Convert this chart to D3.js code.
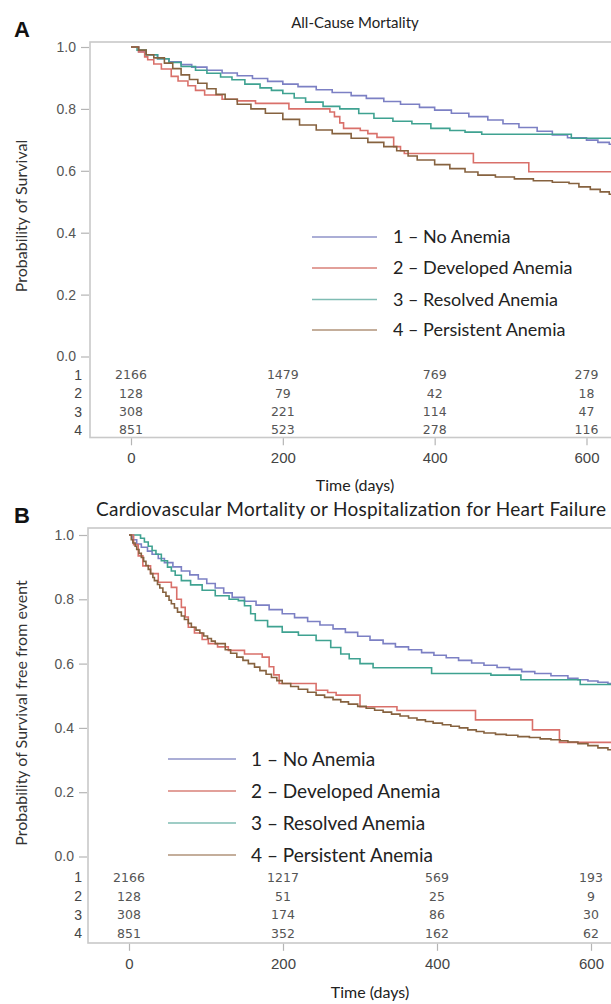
<!DOCTYPE html>
<html>
<head>
<meta charset="utf-8">
<script src="https://cdn.jsdelivr.net/npm/d3@7"></script>
<style>
  html, body { margin: 0; padding: 0; background: #fff; }
  svg { display: block; }
</style>
</head>
<body>
<script>
// ---------------- DATA ----------------
const groupLabels = ["1 \u2013 No Anemia", "2 \u2013 Developed Anemia", "3 \u2013 Resolved Anemia", "4 \u2013 Persistent Anemia"];
const riskRowLabels = ["1", "2", "3", "4"];
const xTickValues = [0, 200, 400, 600];
const yTickValues = [0, 0.2, 0.4, 0.6, 0.8, 1.0];
const panelTitles = ["All-Cause Mortality", "Cardiovascular Mortality or Hospitalization for Heart Failure"];
const panelLetters = ["A", "B"];
const yAxisTitles = ["Probability of Survival", "Probability of Survival free from event"];
const xAxisTitle = "Time (days)";

// Panel A: all-cause mortality, [day, survival]
const allCauseNoAnemia = [[0,1.000],[10,0.985],[20,0.975],[35,0.962],[50,0.952],[66,0.943],[80,0.935],[100,0.925],[120,0.916],[140,0.907],[160,0.898],[180,0.889],[200,0.880],[220,0.872],[244,0.862],[265,0.853],[290,0.843],[310,0.834],[333,0.824],[355,0.815],[380,0.805],[400,0.796],[422,0.786],[445,0.775],[470,0.764],[490,0.752],[511,0.740],[535,0.728],[555,0.716],[575,0.707],[600,0.699],[615,0.692],[630,0.686],[680,0.680]];
const allCauseDeveloped = [[0,1.000],[10,0.984],[18,0.968],[22,0.959],[30,0.945],[40,0.929],[53,0.905],[62,0.890],[75,0.875],[85,0.860],[97,0.845],[120,0.831],[140,0.826],[164,0.818],[208,0.800],[262,0.790],[268,0.775],[275,0.755],[280,0.737],[302,0.730],[312,0.720],[324,0.708],[346,0.678],[355,0.665],[360,0.656],[451,0.626],[524,0.597],[680,0.597]];
const allCauseResolved = [[0,1.000],[8,0.990],[20,0.975],[35,0.962],[50,0.950],[66,0.937],[85,0.925],[100,0.915],[118,0.903],[133,0.894],[150,0.880],[170,0.868],[185,0.860],[200,0.850],[215,0.835],[230,0.822],[253,0.808],[275,0.800],[300,0.785],[320,0.770],[345,0.760],[370,0.752],[395,0.737],[420,0.730],[440,0.725],[462,0.718],[580,0.705],[680,0.700]];
const allCausePersistent = [[0,1.000],[10,0.990],[20,0.975],[30,0.965],[44,0.948],[55,0.930],[66,0.910],[77,0.895],[88,0.883],[100,0.865],[112,0.847],[124,0.831],[140,0.815],[158,0.800],[177,0.786],[200,0.766],[222,0.748],[244,0.732],[265,0.720],[290,0.705],[312,0.692],[333,0.678],[350,0.665],[365,0.648],[377,0.635],[400,0.620],[420,0.607],[440,0.596],[457,0.586],[480,0.580],[505,0.574],[530,0.568],[555,0.563],[577,0.559],[590,0.548],[605,0.540],[618,0.532],[630,0.524],[660,0.510]];

// Panel B: CV mortality or HF hospitalization, [day, event-free survival]
const cvNoAnemia = [[0,1.000],[5,0.985],[10,0.972],[16,0.962],[24,0.950],[30,0.940],[38,0.927],[46,0.914],[57,0.901],[68,0.888],[79,0.876],[90,0.863],[101,0.849],[112,0.835],[123,0.820],[134,0.806],[150,0.794],[165,0.782],[182,0.768],[199,0.755],[215,0.743],[232,0.731],[248,0.720],[265,0.708],[281,0.697],[297,0.685],[313,0.673],[330,0.662],[346,0.652],[363,0.643],[380,0.634],[396,0.626],[412,0.618],[428,0.610],[445,0.602],[461,0.595],[478,0.588],[494,0.582],[510,0.575],[527,0.569],[548,0.562],[570,0.554],[583,0.550],[596,0.546],[609,0.542],[622,0.538],[640,0.535],[680,0.530]];
const cvDeveloped = [[0,1.000],[6,0.970],[12,0.935],[18,0.904],[28,0.880],[38,0.853],[55,0.837],[62,0.800],[68,0.775],[73,0.745],[77,0.713],[85,0.695],[95,0.675],[103,0.662],[115,0.652],[129,0.641],[150,0.630],[173,0.620],[182,0.590],[188,0.565],[195,0.538],[243,0.517],[258,0.510],[269,0.502],[300,0.466],[348,0.454],[450,0.425],[524,0.394],[559,0.355],[680,0.355]];
const cvResolved = [[0,1.000],[15,0.990],[20,0.978],[25,0.965],[30,0.952],[35,0.940],[42,0.920],[50,0.900],[55,0.888],[60,0.875],[68,0.858],[80,0.845],[95,0.828],[112,0.811],[130,0.800],[142,0.796],[150,0.780],[158,0.755],[164,0.734],[180,0.715],[199,0.698],[220,0.688],[243,0.672],[262,0.650],[275,0.630],[286,0.615],[300,0.600],[317,0.587],[393,0.569],[470,0.564],[509,0.550],[586,0.535],[680,0.535]];
const cvPersistent = [[0,1.000],[3,0.985],[5,0.975],[8,0.965],[10,0.955],[13,0.943],[16,0.930],[19,0.918],[22,0.905],[25,0.893],[28,0.880],[31,0.868],[33,0.858],[37,0.846],[40,0.835],[44,0.822],[48,0.810],[52,0.797],[55,0.786],[59,0.773],[63,0.760],[68,0.748],[72,0.737],[77,0.725],[81,0.713],[87,0.704],[92,0.695],[97,0.686],[102,0.678],[107,0.670],[112,0.662],[125,0.643],[132,0.632],[140,0.620],[148,0.610],[155,0.600],[163,0.589],[170,0.578],[178,0.567],[185,0.557],[192,0.547],[199,0.538],[210,0.529],[220,0.520],[232,0.511],[243,0.502],[254,0.495],[265,0.488],[275,0.481],[285,0.474],[297,0.467],[308,0.461],[319,0.455],[330,0.449],[341,0.443],[352,0.437],[363,0.431],[374,0.425],[385,0.420],[395,0.415],[407,0.410],[418,0.405],[429,0.400],[440,0.394],[451,0.389],[461,0.384],[476,0.380],[490,0.377],[505,0.373],[520,0.370],[534,0.366],[548,0.363],[560,0.360],[570,0.356],[583,0.351],[596,0.345],[609,0.338],[622,0.332],[680,0.320]];

// Numbers at risk (rows = groups, columns = xTickValues)
const atRiskAllCause = [[2166,1479,769,279],[128,79,42,18],[308,221,114,47],[851,523,278,116]];
const atRiskCV = [[2166,1217,569,193],[128,51,25,9],[308,174,86,30],[851,352,162,62]];

// ---------------- STYLE / LAYOUT ----------------
const colors = ["#7c80c4", "#d9706a", "#3fa291", "#86623f"];
const legendColors = ["#8f93c8", "#d98079", "#7fbcb3", "#b0937a"];
const W = 611, H = 1004;

const panels = [
  {
    series: [allCauseNoAnemia, allCauseDeveloped, allCauseResolved, allCausePersistent],
    atRisk: atRiskAllCause,
    frameLeft: 90, frameTop: 42, frameBottom: 437.5, frameRight: 660,
    x0: 131, x600: 586.5, y1: 47, y0: 356.5,
    riskY: [375, 393.5, 412, 430],
    tickLabelY: 458, xTitleX: 355, xTitleY: 485,
    titleX: 355, titleY: 23, titleSize: 15, titleLen: null, letterY: 37,
    yTitleX: 21, yTitleY: 216,
    legendX1: 312, legendX2: 377, legendTextX: 393, legendY: [237, 268, 299.5, 330], legendSize: 18
  },
  {
    series: [cvNoAnemia, cvDeveloped, cvResolved, cvPersistent],
    atRisk: atRiskCV,
    frameLeft: 88, frameTop: 528, frameBottom: 943, frameRight: 660,
    x0: 129, x600: 591, y1: 535, y0: 856.5,
    riskY: [877.5, 896.5, 915, 933.5],
    tickLabelY: 964, xTitleX: 370, xTitleY: 992,
    titleX: 351, titleY: 509, titleSize: 19, titleLen: 510, letterY: 523,
    yTitleX: 21, yTitleY: 713,
    legendX1: 168, legendX2: 236, legendTextX: 251, legendY: [759, 791, 823, 855], legendSize: 19
  }
];

const svg = d3.select("body").append("svg")
  .attr("width", W).attr("height", H)
  .attr("viewBox", `0 0 ${W} ${H}`);
svg.append("rect").attr("width", W).attr("height", H).attr("fill", "#fff");

const calibriLike = "Lato, 'Open Sans', sans-serif";
const arialLike = "'Liberation Sans', Arial, sans-serif";

panels.forEach((p, pi) => {
  const g = svg.append("g");
  const x = d3.scaleLinear().domain([0, 600]).range([p.x0, p.x600]);
  const y = d3.scaleLinear().domain([0, 1]).range([p.y0, p.y1]);

  // panel letter
  g.append("text").attr("x", 14).attr("y", p.letterY)
    .attr("font-family", arialLike).attr("font-weight", "bold")
    .attr("font-size", 22).attr("fill", "#111").text(panelLetters[pi]);

  // title
  const t = g.append("text").attr("x", p.titleX).attr("y", p.titleY).attr("dy", "0.35em")
    .attr("text-anchor", "middle").attr("font-family", calibriLike)
    .attr("font-size", p.titleSize).attr("fill", "#222").text(panelTitles[pi]);
  if (p.titleLen) t.attr("textLength", p.titleLen).attr("lengthAdjust", "spacing");

  // frame
  g.append("rect")
    .attr("x", p.frameLeft).attr("y", p.frameTop)
    .attr("width", p.frameRight - p.frameLeft).attr("height", p.frameBottom - p.frameTop)
    .attr("fill", "none").attr("stroke", "#c9c9c9").attr("stroke-width", 1.6);

  // y axis
  const yAxis = d3.axisLeft(y).tickValues(yTickValues).tickFormat(d3.format(".1f"))
    .tickSize(8).tickPadding(5);
  const ya = g.append("g").attr("transform", `translate(${p.frameLeft - 1},0)`).call(yAxis);
  ya.select(".domain").remove();
  ya.selectAll(".tick line").attr("stroke", "#b5b5b5").attr("stroke-width", 1.2);
  ya.selectAll(".tick text").attr("font-family", arialLike).attr("font-size", 14)
    .attr("fill", "#555");

  // x axis (ticks below frame)
  const xAxis = d3.axisBottom(x).tickValues(xTickValues).tickFormat(d3.format("d"))
    .tickSize(7).tickPadding(0);
  const xa = g.append("g").attr("transform", `translate(0,${p.frameBottom + 0.8})`).call(xAxis);
  xa.select(".domain").remove();
  xa.selectAll(".tick line").attr("stroke", "#b5b5b5").attr("stroke-width", 1.2);
  xa.selectAll(".tick text")
    .attr("y", p.tickLabelY - p.frameBottom - 0.8).attr("dy", "0.35em")
    .attr("font-family", arialLike).attr("font-size", 15).attr("fill", "#444");

  // axis titles
  g.append("text").attr("x", p.xTitleX).attr("y", p.xTitleY).attr("dy", "0.35em")
    .attr("text-anchor", "middle").attr("font-family", calibriLike)
    .attr("font-size", 16).attr("fill", "#222").text(xAxisTitle);
  g.append("text")
    .attr("transform", `translate(${p.yTitleX},${p.yTitleY}) rotate(-90)`)
    .attr("dy", "0.35em").attr("text-anchor", "middle")
    .attr("font-family", calibriLike).attr("font-size", 16).attr("fill", "#333")
    .text(yAxisTitles[pi]);

  // numbers at risk
  p.atRisk.forEach((row, ri) => {
    g.append("text").attr("x", 82).attr("y", p.riskY[ri]).attr("dy", "0.35em")
      .attr("text-anchor", "end").attr("font-family", arialLike)
      .attr("font-size", 14).attr("fill", "#444").text(riskRowLabels[ri]);
    row.forEach((n, ci) => {
      g.append("text").attr("x", x(xTickValues[ci])).attr("y", p.riskY[ri]).attr("dy", "0.35em")
        .attr("text-anchor", "middle").attr("font-family", "'DejaVu Sans', sans-serif")
        .attr("font-size", 12.5).attr("fill", "#555").text(n);
    });
  });

  // clip for curves
  const clipId = "clip" + pi;
  svg.append("clipPath").attr("id", clipId).append("rect")
    .attr("x", p.frameLeft).attr("y", p.frameTop)
    .attr("width", p.frameRight - p.frameLeft).attr("height", p.frameBottom - p.frameTop);

  const line = d3.line().x(d => x(d[0])).y(d => y(d[1])).curve(d3.curveStepAfter);
  const curves = g.append("g").attr("clip-path", `url(#${clipId})`);
  // draw order: no anemia, resolved, developed, persistent
  [0, 2, 1, 3].forEach(si => {
    curves.append("path").datum(p.series[si])
      .attr("d", line).attr("fill", "none")
      .attr("stroke", colors[si]).attr("stroke-width", 1.6)
      .attr("stroke-linejoin", "miter");
  });

  // legend
  groupLabels.forEach((lab, li) => {
    g.append("line").attr("x1", p.legendX1).attr("x2", p.legendX2)
      .attr("y1", p.legendY[li]).attr("y2", p.legendY[li])
      .attr("stroke", legendColors[li]).attr("stroke-width", 1.6);
    g.append("text").attr("x", p.legendTextX).attr("y", p.legendY[li]).attr("dy", "0.35em")
      .attr("font-family", calibriLike).attr("font-size", p.legendSize).attr("fill", "#222").text(lab);
  });
});
</script>
</body>
</html>
